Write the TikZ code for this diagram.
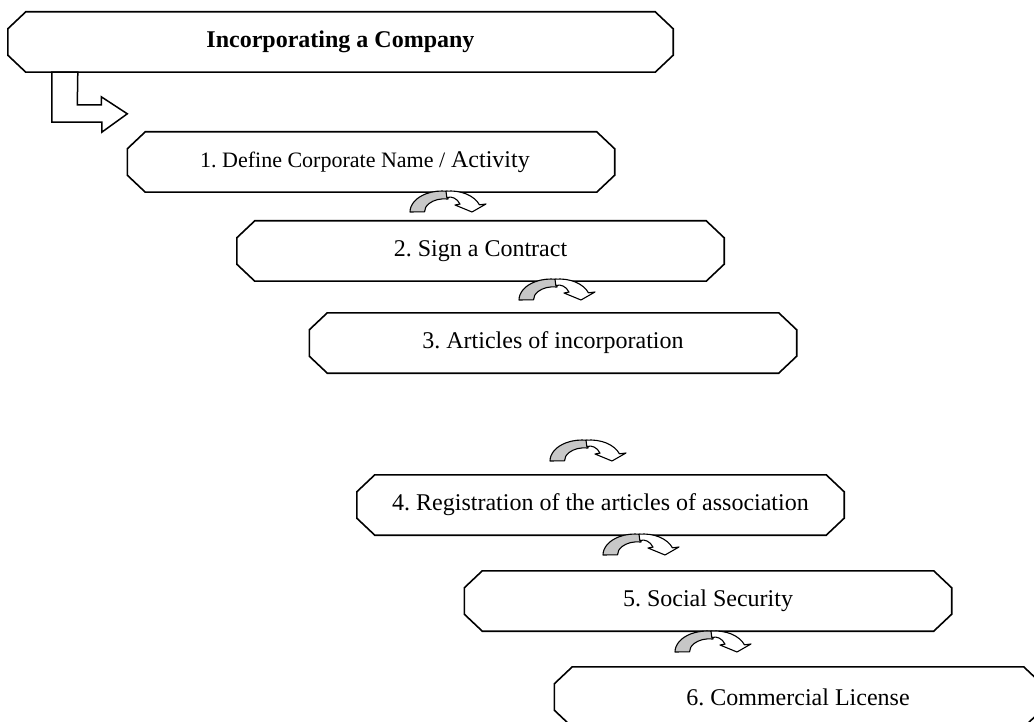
\documentclass[tikz,border=0pt]{standalone}
\usepackage{fontspec}
\setmainfont{Liberation Serif}
\usetikzlibrary{calc}
\frenchspacing
\tikzset{
  boxnode/.style={rectangle, draw=none, inner sep=0pt, minimum width=487pt, minimum height=60pt, font=\fontsize{24}{28}\selectfont},
  boxline/.style={line width=1.6pt, line join=miter},
  blockarrow/.style={draw=black, fill=white, line width=1.5pt, line join=miter},
  curvarr/.pic={
    \begin{scope}[yscale=-1, line width=1.1pt, line join=round]
      \filldraw[fill=black!22] (0,0) arc[start angle=180,end angle=80,x radius=32,y radius=21] -- (38,13) arc[start angle=80,end angle=180,x radius=20,y radius=13] -- cycle;
      \filldraw[fill=white] (36,20.8) arc[start angle=98,end angle=20,x radius=31,y radius=21] -- (76,8) -- (62,0) -- (45,7) -- (50,7.9) arc[start angle=33,end angle=105,x radius=12,y radius=15.5] -- cycle;
    \end{scope}
  }
}
\newcommand\drawoct[1]{\draw[boxline] ([xshift=18pt]#1.north west) -- ([xshift=-18pt]#1.north east) -- ([yshift=-17pt]#1.north east) -- ([yshift=17pt]#1.south east) -- ([xshift=-18pt]#1.south east) -- ([xshift=18pt]#1.south west) -- ([yshift=17pt]#1.south west) -- ([yshift=-17pt]#1.north west) -- cycle;}
\begin{document}
\begin{tikzpicture}[x=1pt,y=-1pt]
\useasboundingbox (0,0) rectangle (1034,722);
\fill[white] (0,0) rectangle (1034,722);
\clip (0,0) rectangle (1034,722);

\node[boxnode, minimum width=665pt, font=\bfseries\fontsize{24}{28}\selectfont] (T) at (340.5,42) {Incorporating a Company};
\node[boxnode] (B1) at (371,162) {};
\node[font=\fontsize{24}{28}\selectfont, inner sep=0pt] (t1) at (365,162) {{\fontsize{22}{26}\selectfont 1. Define Corporate Name /} Activity};
\node[boxnode] (B2) at (480.5,251) {2. Sign a Contract};
\node[boxnode] (B3) at (553,343) {3. Articles of incorporation};
\node[boxnode] (B4) at (600.5,505) {4. Registration of the articles of association};
\node[boxnode] (B5) at (708,601) {5. Social Security};
\node[boxnode] (B6) at (798,697) {6. Commercial License};

\drawoct{T}
\drawoct{B1}
\drawoct{B2}
\drawoct{B3}
\drawoct{B4}
\drawoct{B5}
\drawoct{B6}

\draw[blockarrow] ($(T.south west)+(44,0)$) -- ++(0,50) -- ++(50,0) -- ++(0,10) -- ($(B1.north west)+(0,-18)$) -- ++(-26,-17) -- ++(0,8) -- ++(-24,0) -- ($(T.south west)+(70,0)$) -- cycle;

\pic at (410,212) {curvarr};
\pic at (519,300) {curvarr};
\pic at (550,461) {curvarr};
\pic at (603,555) {curvarr};
\pic at (675,652) {curvarr};
\end{tikzpicture}
\end{document}
